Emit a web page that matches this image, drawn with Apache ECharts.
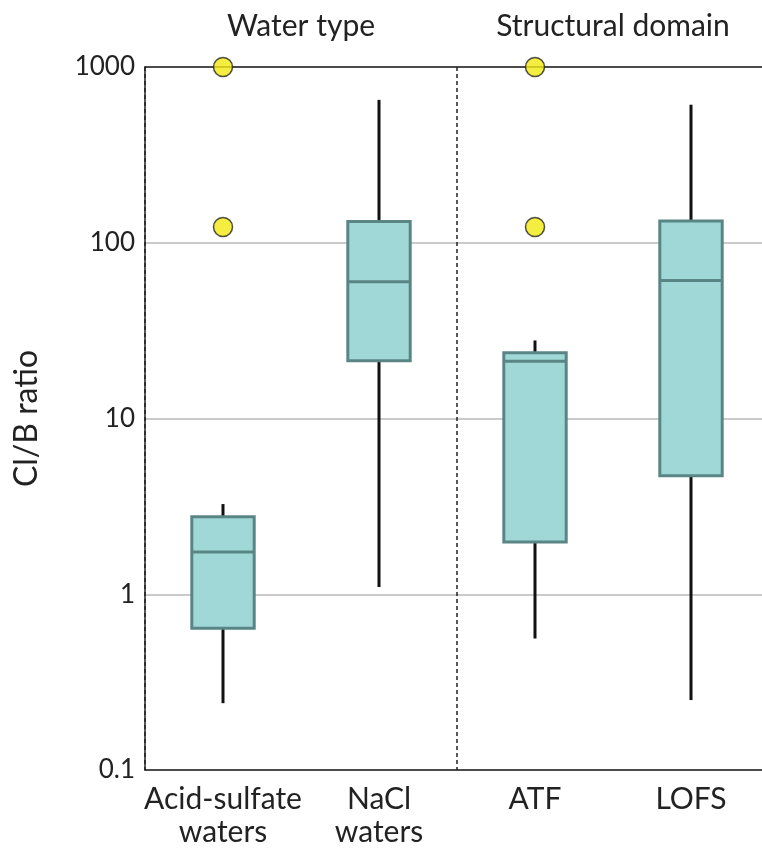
<!DOCTYPE html>
<html>
<head>
<meta charset="utf-8">
<script src="https://cdn.jsdelivr.net/npm/echarts@6/dist/echarts.min.js"></script>
<style>
  html, body { margin: 0; padding: 0; background: #fff; overflow: hidden; }
  #chart { width: 772px; height: 850px; }
</style>
</head>
<body>
<div id="chart"></div>
<script>
// Cl/B ratio distributions by water type and structural domain
const categories = ['Acid-sulfate\nwaters', 'NaCl\nwaters', 'ATF', 'LOFS'];
const groups = ['Water type', 'Structural domain'];
const whiskerLow = [0.24, 1.1, 0.56, 0.25];
const q1 = [0.64, 21.3, 1.98, 4.72];
const median = [1.74, 60, 21.2, 61];
const q3 = [2.76, 132, 23.7, 133];
const whiskerHigh = [3.26, 650, 27.8, 610];
const outlierCategory = [0, 0, 2, 2];
const outlierValue = [1000, 123, 1000, 123];
const yTicks = [0.1, 1, 10, 100, 1000];

const FONT = 'Lato';
const TEXT = '#222';
const BOX_FILL = '#a0d8d8';
const BOX_EDGE = '#5a8585';

const boxData = categories.map((c, i) =>
  [i, whiskerLow[i], q1[i], median[i], q3[i], whiskerHigh[i]]);
const outlierData = outlierCategory.map((c, k) => [c, outlierValue[k]]);

function renderBox(params, api) {
  const i = api.value(0);
  const band = params.coordSys.width / categories.length;
  const half = band * 0.2;
  const pLo = api.coord([i, api.value(1)]);
  const pQ1 = api.coord([i, api.value(2)]);
  const pMed = api.coord([i, api.value(3)]);
  const pQ3 = api.coord([i, api.value(4)]);
  const pHi = api.coord([i, api.value(5)]);
  const x = pMed[0];
  return {
    type: 'group',
    children: [
      { type: 'line', shape: { x1: x, y1: pHi[1], x2: x, y2: pQ3[1] },
        style: { stroke: '#111', lineWidth: 3 } },
      { type: 'line', shape: { x1: x, y1: pQ1[1], x2: x, y2: pLo[1] },
        style: { stroke: '#111', lineWidth: 3 } },
      { type: 'rect', shape: { x: x - half, y: pQ3[1], width: half * 2, height: pQ1[1] - pQ3[1] },
        style: { fill: BOX_FILL, stroke: BOX_EDGE, lineWidth: 3 } },
      { type: 'line', shape: { x1: x - half, y1: pMed[1], x2: x + half, y2: pMed[1] },
        style: { stroke: BOX_EDGE, lineWidth: 3 } }
    ]
  };
}

const chart = echarts.init(document.getElementById('chart'), null, { renderer: 'canvas' });
chart.setOption({
  backgroundColor: '#fff',
  animation: false,
  textStyle: { fontFamily: FONT },
  grid: { left: 145, top: 67, width: 624, bottom: 80, containLabel: false },
  xAxis: [
    {
      type: 'category',
      data: categories,
      position: 'bottom',
      boundaryGap: true,
      axisLine: { show: true, lineStyle: { color: '#222', width: 1.5 } },
      axisTick: { show: false },
      splitLine: { show: false },
      axisLabel: { interval: 0, color: TEXT, fontSize: 30, fontFamily: FONT, margin: 13, lineHeight: 33 }
    },
    {
      type: 'category',
      data: groups,
      position: 'top',
      boundaryGap: true,
      axisLine: { show: true, lineStyle: { color: '#222', width: 1.5 } },
      axisTick: { show: false },
      axisLabel: { interval: 0, color: TEXT, fontSize: 30, fontFamily: FONT, margin: 26 },
      splitLine: { show: true, lineStyle: { color: '#222', width: 1.5, type: [4, 3] } }
    }
  ],
  yAxis: {
    type: 'log',
    logBase: 10,
    min: 0.1,
    max: 1000,
    name: 'Cl/B ratio',
    nameLocation: 'middle',
    nameGap: 102,
    nameTextStyle: { color: TEXT, fontSize: 32, fontFamily: FONT },
    axisLine: { show: true, lineStyle: { color: '#222', width: 1.5 } },
    axisTick: { show: false },
    axisLabel: {
      color: TEXT, fontSize: 26, fontFamily: FONT, margin: 10,
      formatter: v => {
        const t = yTicks.find(k => Math.abs(Math.log10(k) - Math.log10(v)) < 1e-6);
        return t === undefined ? '' : String(t);
      }
    },
    splitLine: { show: true, lineStyle: { color: '#b8b8b8', width: 1.5 } }
  },
  series: [
    {
      type: 'custom',
      xAxisIndex: 0,
      renderItem: renderBox,
      encode: { x: 0, y: [1, 2, 3, 4, 5] },
      data: boxData,
      z: 3
    },
    {
      type: 'scatter',
      xAxisIndex: 0,
      data: outlierData,
      symbol: 'circle',
      symbolSize: 19,
      clip: false,
      itemStyle: { color: '#f2ea12', borderColor: '#222', borderWidth: 1.5 },
      z: 5
    }
  ]
});
</script>
</body>
</html>
